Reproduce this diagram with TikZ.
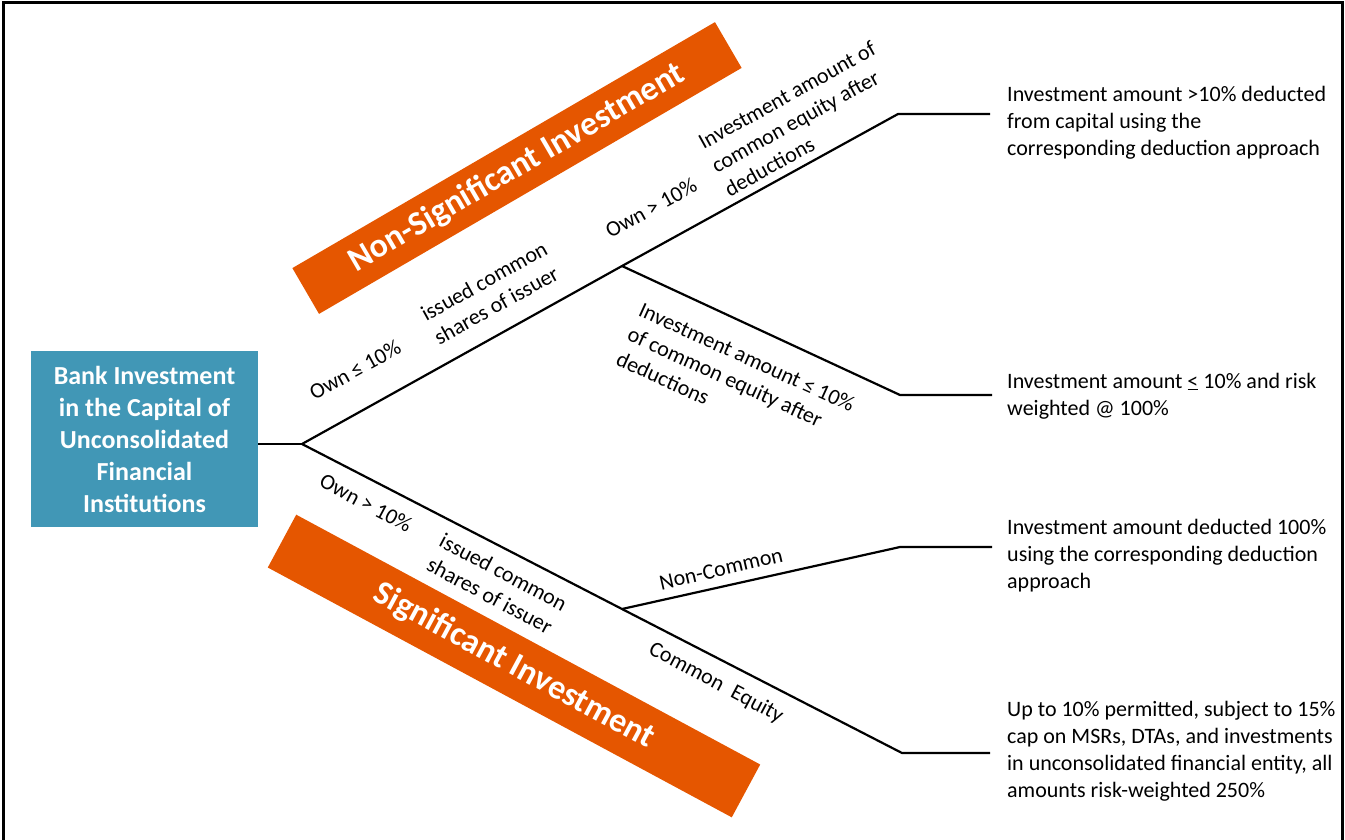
\documentclass[tikz,border=0pt]{standalone}
\usepackage{fontspec}
\setmainfont{Carlito}
\definecolor{bankblue}{RGB}{65,151,182}
\definecolor{bannerorange}{RGB}{229,86,0}
\begin{document}
\begin{tikzpicture}[x=1pt,y=-1pt,
  frame/.style={line width=3pt},
  conn/.style={line width=2.2pt, line join=round},
  bankbox/.style={fill=bankblue, text=white, font=\bfseries\fontsize{26}{32}\selectfont,
    align=center, minimum width=227pt, minimum height=176pt, inner sep=0pt},
  banner/.style={fill=bannerorange, text=white, font=\bfseries\fontsize{34}{40}\selectfont, inner sep=0pt},
  lbl/.style={font=\fontsize{22}{27}\selectfont, inner sep=0pt, align=left},
  res/.style={font=\fontsize{22}{27}\selectfont, inner sep=0pt, align=left, anchor=base west}]
\useasboundingbox (0,0) rectangle (1345,839);
\draw[frame] (3,842) -- (3,2.5) -- (1342,2.5) -- (1342,842);

% banners
\node[banner, rotate=30.2, minimum width=489pt, minimum height=53pt] (nsi) at (517,168) {Non-Significant Investment};
\node[banner, rotate=-28.3, minimum width=527pt, minimum height=60pt] (si) at (514,666) {Significant Investment};

% root box
\node[bankbox] (bank) at (144.5,439) {Bank Investment\\in the Capital of\\Unconsolidated\\Financial\\Institutions};

% connector points
\coordinate (split) at (302,444);
\coordinate (up) at (622,266);
\coordinate (upEnd) at (898,114);
\coordinate (upR) at (990,114);
\coordinate (mid) at (900,395);
\coordinate (midR) at (992,395);
\coordinate (lo) at (622,609);
\coordinate (nc) at (900,547);
\coordinate (ncR) at (992,547);
\coordinate (loEnd) at (902,753);
\coordinate (loR) at (990,753);

\draw[conn] (bank.east |- split) -- (split);
\draw[conn] (split) -- (up) -- (upEnd) -- (upR);
\draw[conn] (up) -- (mid) -- (midR);
\draw[conn] (split) -- (lo) -- (loEnd) -- (loR);
\draw[conn] (lo) -- (nc) -- (ncR);

% branch labels
\node[lbl, rotate=29] (l1) at (355,370) {Own ≤ 10\%};
\node[lbl, rotate=29, anchor=west] (l2) at (429,327) {issued common\\shares of issuer};
\node[lbl, rotate=29] (l3) at (651,208) {Own > 10\%};
\node[lbl, rotate=29, anchor=west] (l4) at (713,167) {Investment amount of\\common equity after\\deductions};
\node[lbl, rotate=-24.5, anchor=west] (l5) at (629,333) {Investment amount ≤ 10\%\\of common equity after\\deductions};
\node[lbl, rotate=-28] (l6) at (366,503) {Own > 10\%};
\node[lbl, rotate=-28, anchor=west] (l7) at (435,551) {issued common\\shares of issuer};
\node[lbl, rotate=13] (l8) at (721,569) {Non-Common};
\node[lbl, rotate=-28] (l9) at (716,683) {Common\enspace Equity};

% results (anchor = baseline of last line)
\node[res] (r1) at (1007,155) {Investment amount >10\% deducted\\from capital using the\\corresponding deduction approach};
\node[res] (r2) at (1007,415) {Investment amount \underline{<} 10\% and risk\\weighted @ 100\%};
\node[res] (r3) at (1007,588) {Investment amount deducted 100\%\\using the corresponding deduction\\approach};
\node[res] (r4) at (1007,797) {Up to 10\% permitted, subject to 15\%\\cap on MSRs, DTAs, and investments\\in unconsolidated financial entity, all\\amounts risk-weighted 250\%};
\end{tikzpicture}
\end{document}
